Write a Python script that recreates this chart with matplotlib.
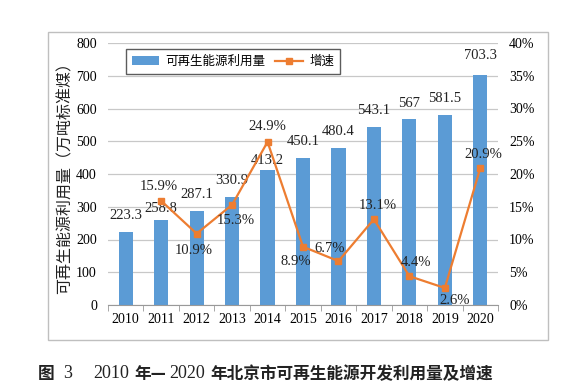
import numpy as np
import matplotlib.pyplot as plt
from matplotlib.patches import Rectangle
from matplotlib.ticker import FuncFormatter

plt.rcParams['font.family'] = ['Liberation Serif', 'Noto Sans CJK SC']

years = ['2010', '2011', '2012', '2013', '2014', '2015',
         '2016', '2017', '2018', '2019', '2020']
usage = [223.3, 258.8, 287.1, 330.9, 413.2, 450.1, 480.4, 543.1, 567, 581.5, 703.3]
usage_labels = ['223.3', '258.8', '287.1', '330.9', '413.2', '450.1',
                '480.4', '543.1', '567', '581.5', '703.3']
growth_years = years[1:]
growth = [15.9, 10.9, 15.3, 24.9, 8.9, 6.7, 13.1, 4.4, 2.6, 20.9]

# label offsets in points (dx, dy) for the labels
growth_off = [(-2, 10), (-2, -12), (3, -11), (0, 11), (-5, -11),
              (-6, 9), (3, 10), (5, 10), (7, -9), (2, 10)]
usage_off = [(0, 7), (0, 4), (0, 7), (0, 7), (0, 2), (0, 7),
             (0, 7), (0, 7), (0, 7), (0, 7), (0, 9)]

blue = '#5b9bd5'
orange = '#ed7d31'

fig = plt.figure(figsize=(5.88, 3.91), dpi=100)
fig.patches.append(Rectangle((48 / 588, 1 - 340 / 391), 500 / 588, 308 / 391,
                             transform=fig.transFigure, fill=False,
                             edgecolor='#bfbfbf', lw=1))

ax = fig.add_axes([108 / 588, 1 - 305 / 391, 390 / 588, 262 / 391])
x = np.arange(len(years))
ax.bar(x, usage, width=0.4, color=blue, zorder=2, label='可再生能源利用量')
ax.set_ylim(0, 800)
ax.set_yticks(range(0, 801, 100))
ax.set_xlim(-0.5, len(years) - 0.5)
ax.set_xticks(x)
ax.set_xticklabels(years)
ax.set_xticks(np.arange(-0.5, len(years), 1), minor=True)
ax.tick_params(axis='x', which='major', length=0, labelsize=10, pad=6)
ax.tick_params(axis='x', which='minor', length=4, color='#999999')
ax.tick_params(axis='y', length=0, labelsize=10, pad=8)
ax.grid(axis='y', color='#c8c8c8', lw=0.9, zorder=0)
for s in ['top', 'right', 'left']:
    ax.spines[s].set_visible(False)
ax.spines['bottom'].set_color('#999999')
ax.set_ylabel('可再生能源利用量（万吨标准煤）', family=['Noto Sans CJK SC'],
              fontsize=11.5, labelpad=2, color='#222222')

for i, (v, lab) in enumerate(zip(usage, usage_labels)):
    ax.annotate(lab, (x[i], v), xytext=usage_off[i], textcoords='offset points',
                ha='center', va='bottom', fontsize=10.5, color='#222222')

ax2 = ax.twinx()
gx = x[1:]
ax2.plot(gx, growth, color=orange, lw=1.6, marker='s', markersize=5,
         zorder=3, label='增速')
ax2.set_ylim(0, 40)
ax2.set_yticks(range(0, 41, 5))
ax2.yaxis.set_major_formatter(FuncFormatter(lambda v, p: f'{int(v)}%'))
ax2.tick_params(axis='y', length=0, labelsize=10, pad=8)
for s in ['top', 'right', 'left', 'bottom']:
    ax2.spines[s].set_visible(False)

for i, v in enumerate(growth):
    ax2.annotate(f'{v}%', (gx[i], v), xytext=growth_off[i], textcoords='offset points',
                 ha='center', va='center', fontsize=10.5, color='#222222')

h1, l1 = ax.get_legend_handles_labels()
h2, l2 = ax2.get_legend_handles_labels()
leg = ax.legend(h1 + h2, l1 + l2, loc='upper left', bbox_to_anchor=(0.03, 1.0),
                ncol=2, frameon=True, fancybox=False, edgecolor='#333333',
                prop={'family': ['Noto Sans CJK SC'], 'size': 9},
                handlelength=2.2, columnspacing=0.8, handletextpad=0.5,
                borderpad=0.45)
leg.get_frame().set_linewidth(1.0)

# caption: Chinese in bold sans, digits in plain serif; (text, kind, gap after in px)
pieces = [('图', 'cjk', 9), ('3', 'num', 21), ('2010', 'num', 5), ('年—', 'cjk', 3),
          ('2020', 'num', 5), ('年北京市可再生能源开发利用量及增速', 'cjk', 0)]
fig.canvas.draw()
renderer = fig.canvas.get_renderer()
xpos = 38
ypos = 1 - 374 / 391
for txt, kind, gap in pieces:
    if kind == 'cjk':
        t = fig.text(xpos / 588, ypos, txt, ha='left', va='center', fontsize=12,
                     family=['Noto Sans CJK SC'], weight='bold', color='#222222')
    else:
        t = fig.text(xpos / 588, ypos, txt, ha='left', va='center', fontsize=13,
                     family=['Liberation Serif'], color='#222222')
    bb = t.get_window_extent(renderer)
    xpos += bb.width + gap

fig.savefig('out.png', dpi=100)
